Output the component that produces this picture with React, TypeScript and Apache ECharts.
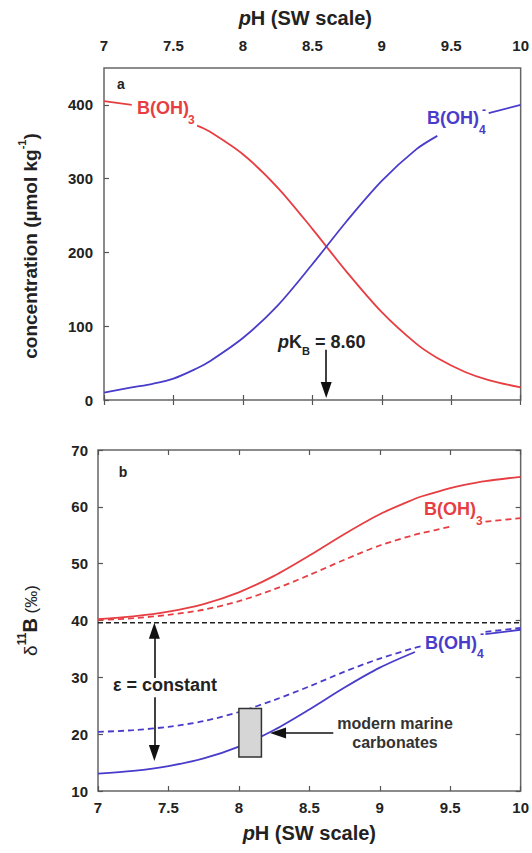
import React, { useEffect, useRef } from "react";
import * as echarts from "echarts";

const F = '"Liberation Sans", Arial, Helvetica, sans-serif';
const RED = "#e63e42";
const BLUE = "#4a3ccb";
const INK = "#222";

// Panel a: concentration (µmol/kg) vs pH
const phA = [7.0, 7.2, 7.35, 7.5, 7.67, 7.75, 8.0, 8.25, 8.5, 8.75, 9.0, 9.25, 9.4, 9.6, 9.77, 10.0];
const boricA = [405, 400, null, null, 372, 365, 333, 288, 232, 173, 119, 76, 57, 38, 27, 17];
const borateA = [10, 17, 22, 29, 43, 51, 84, 128, 184, 243, 297, 340, 358, null, 389, 400];

// Panel b: δ11B (‰) vs pH
const phB = [7.0, 7.25, 7.5, 7.75, 8.0, 8.25, 8.5, 8.75, 9.0, 9.25, 9.3, 9.5, 9.6, 9.75, 10.0];
const boricSolid = [40.25, 40.74, 41.57, 42.9, 44.96, 47.85, 51.42, 55.23, 58.7, 61.42, 61.86, 63.31, 63.87, 64.54, 65.28];
const boricDashed = [40.1, 40.4, 41.0, 41.9, 43.4, 45.5, 48.0, 50.7, 53.2, 55.1, 55.4, 56.5, null, 57.4, 58.0];
const borateSolid = [13.06, 13.55, 14.39, 15.74, 17.82, 20.74, 24.35, 28.21, 31.71, 34.46, null, null, null, 37.62, 38.37];
const borateDashed = [20.4, 20.7, 21.3, 22.3, 23.9, 26.0, 28.4, 31.0, 33.3, 35.2, 35.5, null, null, 38.0, 38.7];
const seawaterPh = [7.0, 10.0];
const seawaterD = [39.6, 39.6];

// modern marine carbonates box
const carbPh = [8.0, 8.16];
const carbD = [16.0, 24.5];

const pKB = 8.6;

const pairs = (xs: number[], ys: (number | null)[]) =>
  xs.map((x, i) => [x, ys[i] == null ? "-" : ys[i]]);

const tick = { show: true, inside: true, length: 5, lineStyle: { color: "#555", width: 1.2 } };
const lbl = { color: INK, fontSize: 15, fontWeight: "bold", fontFamily: F };
const noLine = { show: false };

function txt(text: string, x: number, y: number, o: any = {}) {
  const st: any = {
    text,
    fontSize: o.size ?? 17,
    fontWeight: o.weight ?? "bold",
    fontStyle: o.style ?? "normal",
    fontFamily: F,
    fill: o.color ?? INK,
    align: o.align ?? "left",
    textAlign: o.align ?? "left",
    verticalAlign: "middle",
    textVerticalAlign: "middle",
  };
  return { type: "text", x, y, silent: true, z: 100, style: st };
}

const arrowLine = (data: any[]) => ({
  silent: true,
  symbol: ["none", "triangle"],
  symbolSize: [11, 16],
  label: { show: false },
  lineStyle: { color: "#111", width: 1.6, type: "solid" },
  itemStyle: { color: "#111" },
  emphasis: { disabled: true },
  data,
});

const option: any = {
  animation: false,
  backgroundColor: "#fff",
  textStyle: { fontFamily: F },
  grid: [
    { left: 104, right: 10, top: 68, height: 332, show: true, borderColor: "#666", borderWidth: 1.5, backgroundColor: "transparent" },
    { left: 98, right: 9, top: 450, height: 341, show: true, borderColor: "#666", borderWidth: 1.5, backgroundColor: "transparent" },
  ],
  xAxis: [
    {
      gridIndex: 0, type: "value", position: "top", min: 7, max: 10, interval: 0.5,
      axisLine: noLine, axisTick: tick, splitLine: { show: false },
      axisLabel: { ...lbl, margin: 15 },
      name: "{i|p}{a|H (SW scale)}", nameLocation: "middle", nameGap: 40,
      nameTextStyle: {
        padding: [0, 14, 0, 0],
        rich: {
          i: { fontSize: 20, fontWeight: "bold", fontStyle: "italic", fontFamily: F, color: INK },
          a: { fontSize: 20, fontWeight: "bold", fontFamily: F, color: INK },
        },
      },
    },
    {
      gridIndex: 0, type: "value", position: "bottom", min: 7, max: 10, interval: 0.5,
      axisLine: noLine, axisTick: tick, axisLabel: { show: false }, splitLine: { show: false },
    },
    {
      gridIndex: 1, type: "value", position: "bottom", min: 7, max: 10, interval: 0.5,
      axisLine: noLine, axisTick: tick, splitLine: { show: false },
      axisLabel: { ...lbl, margin: 9 },
      name: "{i|p}{a|H (SW scale)}", nameLocation: "middle", nameGap: 32,
      nameTextStyle: {
        rich: {
          i: { fontSize: 20, fontWeight: "bold", fontStyle: "italic", fontFamily: F, color: INK },
          a: { fontSize: 20, fontWeight: "bold", fontFamily: F, color: INK },
        },
      },
    },
    {
      gridIndex: 1, type: "value", position: "top", min: 7, max: 10, interval: 0.5,
      axisLine: noLine, axisTick: tick, axisLabel: { show: false }, splitLine: { show: false },
    },
  ],
  yAxis: [
    {
      gridIndex: 0, type: "value", position: "left", min: 0, max: 450, interval: 100,
      axisLine: noLine, axisTick: tick, splitLine: { show: false },
      axisLabel: { ...lbl, margin: 11, showMaxLabel: false },
      name: "{a|concentration (µmol kg}{s|-1}{a|)}", nameLocation: "middle", nameGap: 64,
      nameTextStyle: {
        padding: [0, 24, 0, 0],
        rich: {
          a: { fontSize: 19, fontWeight: "bold", fontFamily: F, color: INK, lineHeight: 24, verticalAlign: "bottom" },
          s: { fontSize: 11, fontWeight: "bold", fontFamily: F, color: INK, lineHeight: 12, verticalAlign: "top" },
        },
      },
    },
    {
      gridIndex: 1, type: "value", position: "left", min: 10, max: 70, interval: 10,
      axisLine: noLine, axisTick: tick, splitLine: { show: false },
      axisLabel: { ...lbl, margin: 10 },
      name: "{d|δ}{s|11}{b|B}{n| (‰)}", nameLocation: "middle", nameGap: 58,
      nameTextStyle: {
        rich: {
          d: { fontSize: 19, fontWeight: "normal", fontFamily: F, color: INK, lineHeight: 24, verticalAlign: "bottom" },
          s: { fontSize: 12, fontWeight: "bold", fontFamily: F, color: INK, lineHeight: 12, verticalAlign: "top" },
          b: { fontSize: 20, fontWeight: "bold", fontFamily: F, color: INK, lineHeight: 24, verticalAlign: "bottom" },
          n: { fontSize: 17, fontWeight: "normal", fontFamily: F, color: INK, lineHeight: 23, verticalAlign: "bottom" },
        },
      },
    },
    {
      gridIndex: 1, type: "value", position: "right", min: 10, max: 70, interval: 10,
      axisLine: noLine, axisTick: tick, axisLabel: { show: false }, splitLine: { show: false },
    },
  ],
  series: [
    {
      name: "B(OH)3 conc", type: "line", xAxisIndex: 0, yAxisIndex: 0, smooth: 0.3, symbol: "none",
      connectNulls: false, lineStyle: { color: RED, width: 1.8 }, itemStyle: { color: RED },
      data: pairs(phA, boricA),
    },
    {
      name: "B(OH)4- conc", type: "line", xAxisIndex: 0, yAxisIndex: 0, smooth: 0.3, symbol: "none",
      connectNulls: false, lineStyle: { color: BLUE, width: 1.8 }, itemStyle: { color: BLUE },
      data: pairs(phA, borateA),
      markLine: arrowLine([[{ coord: [pKB, 68] }, { coord: [pKB, 13.6] }]]),
    },
    {
      name: "seawater", type: "line", xAxisIndex: 2, yAxisIndex: 1, symbol: "none",
      lineStyle: { color: "#222", width: 1.4, type: [5, 3] }, itemStyle: { color: "#222" },
      data: pairs(seawaterPh, seawaterD),
      markLine: arrowLine([
        [{ coord: [7.4, 29.9] }, { coord: [7.4, 38.2] }],
        [{ coord: [7.4, 26.5] }, { coord: [7.4, 16.7] }],
        [{ coord: [8.67, 20.2] }, { coord: [8.278, 20.2] }],
      ]),
    },
    {
      name: "B(OH)3 solid", type: "line", xAxisIndex: 2, yAxisIndex: 1, smooth: 0.3, symbol: "none",
      connectNulls: false, lineStyle: { color: RED, width: 1.8 }, itemStyle: { color: RED },
      data: pairs(phB, boricSolid),
    },
    {
      name: "B(OH)3 dashed", type: "line", xAxisIndex: 2, yAxisIndex: 1, smooth: 0.3, symbol: "none",
      connectNulls: false, lineStyle: { color: RED, width: 1.8, type: [6, 4] }, itemStyle: { color: RED },
      data: pairs(phB, boricDashed),
    },
    {
      name: "B(OH)4 solid", type: "line", xAxisIndex: 2, yAxisIndex: 1, smooth: 0.3, symbol: "none",
      connectNulls: false, lineStyle: { color: BLUE, width: 1.8 }, itemStyle: { color: BLUE },
      data: pairs(phB, borateSolid),
    },
    {
      name: "B(OH)4 dashed", type: "line", xAxisIndex: 2, yAxisIndex: 1, smooth: 0.3, symbol: "none",
      connectNulls: false, lineStyle: { color: BLUE, width: 1.8, type: [6, 4] }, itemStyle: { color: BLUE },
      data: pairs(phB, borateDashed),
    },
    {
      name: "carbonates", type: "custom", xAxisIndex: 2, yAxisIndex: 1, z: 5, silent: true,
      data: [[carbPh[0], carbPh[1], carbD[0], carbD[1]]],
      renderItem: (_p: any, api: any) => {
        const a = api.coord([api.value(0), api.value(3)]);
        const b = api.coord([api.value(1), api.value(2)]);
        return {
          type: "rect",
          shape: { x: a[0], y: a[1], width: b[0] - a[0], height: b[1] - a[1] },
          style: { fill: "#d6d6d6", stroke: "#333", lineWidth: 1.5 },
        };
      },
    },
  ],
  graphic: [
    txt("a", 121, 84, { size: 14, align: "center" }),
    txt("b", 123, 472, { size: 14, align: "center" }),
    // panel a labels
    txt("B(OH)", 137, 108, { size: 18, color: RED }),
    txt("3", 188, 120, { size: 12, color: RED }),
    txt("B(OH)", 427, 118, { size: 18, color: BLUE }),
    txt("4", 479, 130, { size: 12, color: BLUE }),
    txt("-", 482, 110, { size: 12, color: BLUE }),
    txt("p", 278, 342, { size: 18, style: "italic" }),
    txt("K", 289, 342, { size: 18 }),
    txt("B", 302, 351, { size: 11 }),
    txt("= 8.60", 315, 342, { size: 18 }),
    // panel b labels
    txt("B(OH)", 424, 509, { size: 18, color: RED }),
    txt("3", 476, 521, { size: 12, color: RED }),
    txt("B(OH)", 425, 643, { size: 18, color: BLUE }),
    txt("4", 477, 654, { size: 12, color: BLUE }),
    txt("-", 480, 634, { size: 12, color: BLUE }),
    txt("ε = constant", 113, 685, { size: 18 }),
    txt("modern marine", 395, 723, { size: 16, align: "center", color: "#333" }),
    txt("carbonates", 395, 742, { size: 16, align: "center", color: "#333" }),
  ],
};

export default function App() {
  const ref = useRef<HTMLDivElement>(null);
  useEffect(() => {
    const chart = echarts.init(ref.current!, null, { renderer: "svg" });
    chart.setOption(option);
    return () => chart.dispose();
  }, []);
  return (
    <div
      ref={ref}
      style={{ position: "fixed", left: 0, top: 0, width: 532, height: 853, background: "#fff" }}
    />
  );
}
